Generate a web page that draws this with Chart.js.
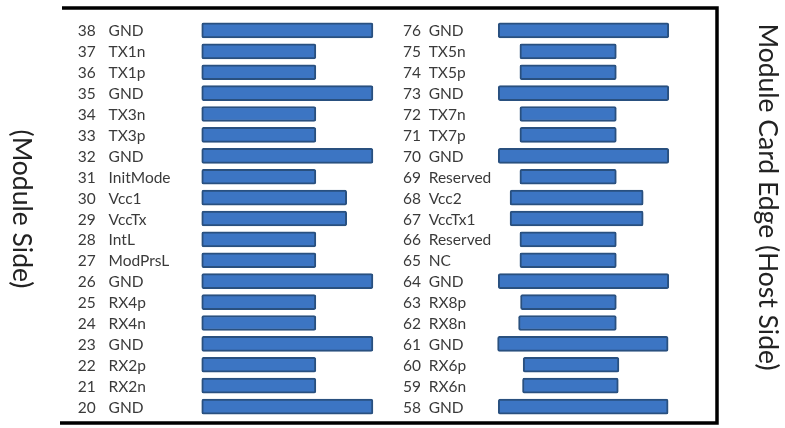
<!DOCTYPE html>
<html>
<head>
<meta charset="utf-8">
<script src="https://cdn.jsdelivr.net/npm/chart.js@4.4.1/dist/chart.umd.min.js"></script>
<style>
    html, body { margin: 0; padding: 0; background: #fff; }
    #wrap { width: 785px; height: 428px; }
</style>
</head>
<body>
<div id="wrap"><canvas id="pins" width="785" height="428"></canvas></div>
<script>
// =====================================================================
// PIN DATA (x in % of the card width)
// =====================================================================
const leftPins  = [38, 37, 36, 35, 34, 33, 32, 31, 30, 29, 28, 27, 26, 25, 24, 23, 22, 21, 20];
const leftNames = ['GND', 'TX1n', 'TX1p', 'GND', 'TX3n', 'TX3p', 'GND', 'InitMode', 'Vcc1', 'VccTx',
                   'IntL', 'ModPrsL', 'GND', 'RX4p', 'RX4n', 'GND', 'RX2p', 'RX2n', 'GND'];
const leftStart = [21.3, 21.3, 21.3, 21.3, 21.3, 21.3, 21.3, 21.3, 21.3, 21.3,
                   21.3, 21.3, 21.3, 21.3, 21.3, 21.3, 21.3, 21.3, 21.3];
const leftEnd   = [47.4, 38.7, 38.7, 47.4, 38.7, 38.7, 47.4, 38.7, 43.4, 43.4,
                   38.7, 38.7, 47.4, 38.7, 38.7, 47.4, 38.7, 38.7, 47.4];

const rightPins  = [76, 75, 74, 73, 72, 71, 70, 69, 68, 67, 66, 65, 64, 63, 62, 61, 60, 59, 58];
const rightNames = ['GND', 'TX5n', 'TX5p', 'GND', 'TX7n', 'TX7p', 'GND', 'Reserved', 'Vcc2', 'VccTx1',
                    'Reserved', 'NC', 'GND', 'RX8p', 'RX8n', 'GND', 'RX6p', 'RX6n', 'GND'];
const rightStart = [66.5, 69.8, 69.8, 66.5, 69.8, 69.8, 66.5, 69.8, 68.3, 68.3,
                    69.8, 69.8, 66.5, 69.9, 69.6, 66.4, 70.3, 70.2, 66.5];
const rightEnd   = [92.5, 84.5, 84.5, 92.5, 84.5, 84.5, 92.5, 84.5, 88.6, 88.6,
                    84.5, 84.5, 92.5, 84.5, 84.5, 92.4, 84.9, 84.8, 92.4];

const titleLeft  = '(Module Side)';
const titleRight = 'Module Card Edge (Host Side)';

// label columns, in the same x units as the bars
const numColLeft = 2.4, nameColLeft = 7.1;
const numColRight = 52.0, nameColRight = 55.9;

const FONT = 'Lato, "Open Sans", sans-serif';
const TEXT = '#3a3a3a';

// =====================================================================
// LABELS, FRAME AND SIDE TITLES
// =====================================================================
const pinDecor = {
    id: 'pinDecor',
    afterDatasetsDraw(chart) {
        const { ctx, chartArea: a, scales: { x, y } } = chart;
        ctx.save();

        // pin numbers and names
        ctx.fillStyle = TEXT;
        ctx.font = '15.5px ' + FONT;
        ctx.textBaseline = 'middle';
        ctx.textAlign = 'left';
        leftPins.forEach((pin, i) => {
            const py = y.getPixelForValue(i) + 1;
            ctx.fillText(String(pin), x.getPixelForValue(numColLeft), py);
            ctx.fillText(leftNames[i], x.getPixelForValue(nameColLeft), py);
            ctx.fillText(String(rightPins[i]), x.getPixelForValue(numColRight), py);
            ctx.fillText(rightNames[i], x.getPixelForValue(nameColRight), py);
        });

        // open-sided frame (top, right, bottom)
        const top = a.top - 12, bottom = a.bottom + 6;
        ctx.strokeStyle = '#000';
        ctx.lineWidth = 3.5;
        ctx.beginPath();
        ctx.moveTo(a.left, top);
        ctx.lineTo(a.right - 1, top);
        ctx.lineTo(a.right - 1, bottom);
        ctx.lineTo(a.left - 2, bottom);
        ctx.stroke();

        // rotated side titles
        ctx.fillStyle = '#222';
        ctx.font = '26.5px ' + FONT;
        ctx.textAlign = 'center';
        ctx.textBaseline = 'middle';
        ctx.save();
        ctx.translate(22, 209);
        ctx.rotate(Math.PI / 2);
        ctx.fillText(titleLeft, 0, 0);
        ctx.restore();
        ctx.save();
        ctx.translate(768, 197);
        ctx.rotate(Math.PI / 2);
        ctx.fillText(titleRight, 0, 0);
        ctx.restore();

        ctx.restore();
    }
};

const barStyle = {
    backgroundColor: '#3C75C3',
    borderColor: '#29507F',
    borderWidth: 2,
    borderSkipped: false,
    borderRadius: 2,
    barThickness: 15,
    grouped: false
};

new Chart(document.getElementById('pins'), {
    type: 'bar',
    data: {
        labels: leftPins.map(String),
        datasets: [
            { label: 'Module side', data: leftStart.map((s, i) => [s, leftEnd[i]]), ...barStyle },
            { label: 'Host side', data: rightStart.map((s, i) => [s, rightEnd[i]]), ...barStyle }
        ]
    },
    options: {
        indexAxis: 'y',
        responsive: false,
        animation: false,
        layout: { padding: { left: 62, right: 67, top: 20, bottom: 11 } },
        scales: {
            x: { type: 'linear', min: 0, max: 100, display: false },
            y: { display: false, offset: true }
        },
        plugins: {
            legend: { display: false },
            tooltip: { enabled: false }
        }
    },
    plugins: [pinDecor]
});
</script>
</body>
</html>
